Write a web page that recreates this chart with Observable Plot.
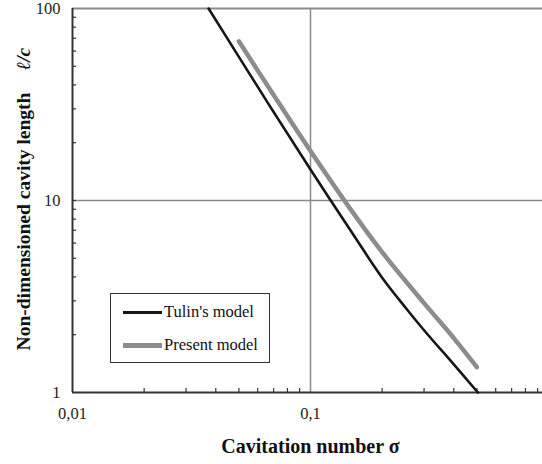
<!DOCTYPE html>
<html><head><meta charset="utf-8">
<script src="https://cdn.jsdelivr.net/npm/d3@7"></script>
<script src="https://cdn.jsdelivr.net/npm/@observablehq/plot@0.6"></script>
<style>
html,body{margin:0;padding:0;background:#fff;overflow:hidden}
#wrap{position:relative;width:542px;height:464px;overflow:hidden;background:#fff}
#wrap svg{display:block}
.legend{position:absolute;left:110px;top:293px;width:158px;height:68px;border:1.5px solid #333;background:#fff;font-family:"Liberation Serif","DejaVu Serif",serif;font-size:16.5px;color:#111}
.legend .row{position:absolute;left:12px;height:20px;display:flex;align-items:center}
.legend .sw{width:39px;margin-right:2px}
</style>
</head><body>
<div id="wrap"></div>
<script>
// Tulin's model
const tulinSigma = [0.0373, 0.05, 0.07, 0.1, 0.15, 0.2, 0.25, 0.3, 0.4, 0.505];
const tulinLen   = [100, 56.0, 28.9, 14.5, 6.75, 3.96, 2.78, 2.11, 1.40, 1];
// Present model
const presentSigma = [0.05, 0.07, 0.1, 0.15, 0.2, 0.3, 0.4, 0.5];
const presentLen   = [67.5, 35.4, 18.1, 8.72, 5.38, 2.92, 1.92, 1.355];

const xMajor = [0.01, 0.1];
const xMajorLabels = ["0,01", "0,1"];
const yMajor = [1, 10, 100];
const yMajorLabels = ["1", "10", "100"];
const xMinor = [0.02,0.03,0.04,0.05,0.06,0.07,0.08,0.09,0.2,0.3,0.4,0.5,0.6,0.7,0.8,0.9];
const yMinor = [2,3,4,5,6,7,8,9,10,20,30,40,50,60,70,80,90];

const seriesNames = ["Tulin's model", "Present model"];
const seriesColors = ["#161616", "#8c8c8c"];

const tulin = tulinSigma.map((s, i) => ({s, v: tulinLen[i]}));
const present = presentSigma.map((s, i) => ({s, v: presentLen[i]}));

const serif = '"Liberation Serif", "DejaVu Serif", serif';
const chart = Plot.plot({
  width: 542, height: 464,
  marginLeft: 72, marginRight: -6, marginTop: 8, marginBottom: 72,
  style: {fontFamily: serif, background: "#fff", color: "#222"},
  x: {type: "log", domain: [0.01, 1], label: null},
  y: {type: "log", domain: [1, 100], label: null},
  marks: [
    Plot.ruleX([0.1], {stroke: "#8a8a8a", strokeWidth: 1.5}),
    Plot.ruleY([10], {stroke: "#8a8a8a", strokeWidth: 1.5}),
    Plot.ruleY([100], {stroke: "#8a8a8a", strokeWidth: 2}),
    Plot.axisY(yMinor, {anchor: "left", tickSize: -4, tickFormat: () => "", stroke: "#333", strokeWidth: 1.2}),
    Plot.axisY(yMajor, {anchor: "left", tickSize: 0, tickPadding: 12, tickFormat: d => yMajorLabels[yMajor.indexOf(d)], fontSize: 16.5, fill: "#222"}),
    Plot.axisX(xMinor, {anchor: "bottom", tickSize: -4, tickFormat: () => "", stroke: "#333", strokeWidth: 1.2}),
    Plot.axisX(xMajor, {anchor: "bottom", tickSize: 0, tickPadding: 15, tickFormat: d => xMajorLabels[xMajor.indexOf(d)], fontSize: 16.5, fill: "#222"}),
    Plot.ruleX([0.01], {stroke: "#333", strokeWidth: 2}),
    Plot.ruleY([1], {stroke: "#333", strokeWidth: 2}),
    Plot.line(present, {x: "s", y: "v", stroke: seriesColors[1], strokeWidth: 4.5, curve: "catmull-rom"}),
    Plot.line(tulin, {x: "s", y: "v", stroke: seriesColors[0], strokeWidth: 2.6, curve: "catmull-rom"}),
    Plot.text(["Cavitation number σ"], {frameAnchor: "bottom", dy: 60, fontSize: 20, fontWeight: "bold", fill: "#111"}),
    Plot.text(["Non-dimensioned cavity length"], {frameAnchor: "left", textAnchor: "middle", dx: -49, dy: 21, rotate: -90, fontSize: 19.5, fontWeight: "bold", fill: "#111"}),
    Plot.text(["ℓ/c"], {frameAnchor: "left", textAnchor: "middle", dx: -49, dy: -141.5, rotate: -90, fontSize: 19.5, fontWeight: "bold", fontStyle: "italic", fill: "#111"})
  ]
});
const wrap = document.getElementById("wrap");
wrap.appendChild(chart);

const legend = document.createElement("div");
legend.className = "legend";
seriesNames.forEach((name, i) => {
  const row = document.createElement("div");
  row.className = "row";
  row.style.top = (i === 0 ? 8 : 41) + "px";
  const sw = document.createElement("div");
  sw.className = "sw";
  sw.style.background = seriesColors[i];
  sw.style.height = (i === 0 ? 3 : 5) + "px";
  const t = document.createElement("span");
  t.textContent = name;
  row.appendChild(sw); row.appendChild(t);
  legend.appendChild(row);
});
wrap.appendChild(legend);
</script>
</body></html>
